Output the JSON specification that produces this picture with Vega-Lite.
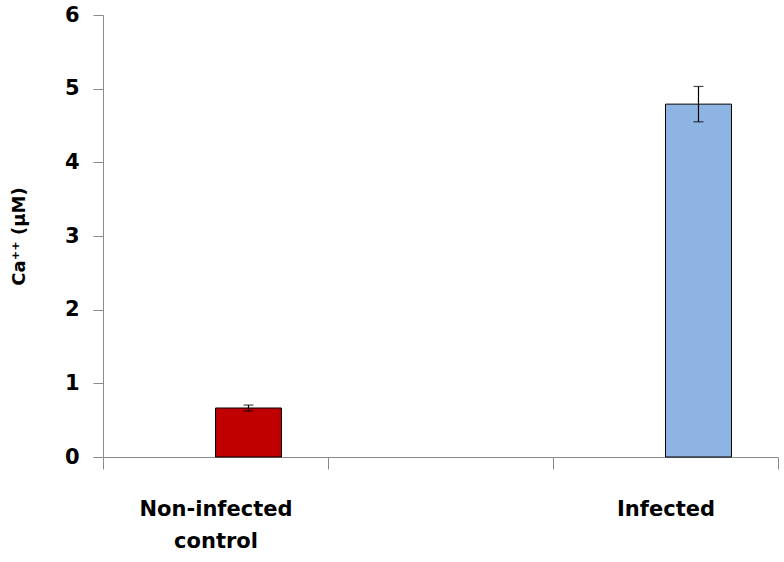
{
  "$schema": "https://vega.github.io/schema/vega-lite/v6.json",
  "width": 675,
  "height": 442,
  "autosize": {"type": "none"},
  "padding": {"left": 103, "top": 15, "right": 6, "bottom": 105},
  "background": "white",
  "config": {"view": {"stroke": null}, "font": "DejaVu Sans"},
  "data": {"values": [
    {"group": "Non-infected control", "series": "Ca", "value": 0.665, "lo": 0.625, "hi": 0.705},
    {"group": "Infected", "series": "Ca", "value": 4.79, "lo": 4.55, "hi": 5.03}
  ]},
  "encoding": {
    "x": {
      "field": "group",
      "type": "nominal",
      "scale": {"domain": ["Non-infected control", "(gap)", "Infected"], "paddingInner": 0, "paddingOuter": 0},
      "axis": {
        "title": null,
        "labelAngle": 0,
        "domainColor": "#8a8a8a",
        "tickColor": "#8a8a8a",
        "tickSize": 12,
        "tickBand": "extent",
        "labelExpr": "datum.value == 'Non-infected control' ? ['Non-infected', 'control'] : (datum.value == '(gap)' ? '' : datum.value)",
        "labelFontSize": 21,
        "labelFontWeight": "bold",
        "labelColor": "black",
        "labelPadding": 29,
        "labelBaseline": "top",
        "labelLineHeight": 32
      }
    },
    "xOffset": {
      "field": "series",
      "type": "nominal",
      "scale": {"domain": ["none", "Ca"], "paddingInner": 0, "paddingOuter": 0.705}
    }
  },
  "layer": [
    {
      "mark": {"type": "bar", "stroke": "black", "strokeWidth": 1},
      "encoding": {
        "y": {
          "field": "value",
          "type": "quantitative",
          "scale": {"domain": [0, 6], "nice": false},
          "axis": {
            "values": [0, 1, 2, 3, 4, 5, 6],
            "format": "d",
            "grid": false,
            "domainColor": "#8a8a8a",
            "tickColor": "#8a8a8a",
            "tickSize": 10,
            "labelPadding": 14,
            "labelFontSize": 21,
            "labelFontWeight": "bold",
            "labelColor": "black",
            "title": "Ca⁺⁺ (µM)",
            "titleFontSize": 18,
            "titleFontWeight": "bold",
            "titleColor": "black",
            "titlePadding": 36
          }
        },
        "color": {
          "field": "group",
          "type": "nominal",
          "scale": {"domain": ["Non-infected control", "Infected"], "range": ["#C00000", "#8EB4E3"]},
          "legend": null
        }
      }
    },
    {
      "mark": {"type": "rule", "color": "black", "strokeWidth": 1.2},
      "encoding": {
        "y": {"field": "lo", "type": "quantitative"},
        "y2": {"field": "hi"}
      }
    },
    {
      "mark": {"type": "tick", "color": "black", "size": 10, "thickness": 1.2},
      "encoding": {"y": {"field": "lo", "type": "quantitative"}}
    },
    {
      "mark": {"type": "tick", "color": "black", "size": 10, "thickness": 1.2},
      "encoding": {"y": {"field": "hi", "type": "quantitative"}}
    }
  ]
}
